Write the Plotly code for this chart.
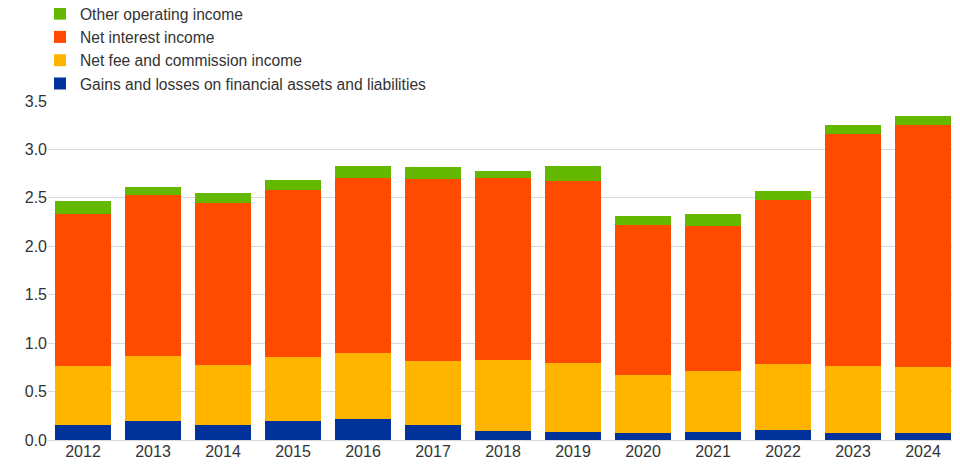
import plotly.graph_objects as go

years = ["2012", "2013", "2014", "2015", "2016", "2017", "2018", "2019",
         "2020", "2021", "2022", "2023", "2024"]
gains_losses = [0.15, 0.20, 0.155, 0.20, 0.22, 0.16, 0.09, 0.085, 0.075, 0.085, 0.10, 0.075, 0.075]
net_fee = [0.61, 0.67, 0.62, 0.655, 0.675, 0.66, 0.735, 0.705, 0.60, 0.63, 0.685, 0.69, 0.68]
net_interest = [1.575, 1.66, 1.67, 1.73, 1.805, 1.87, 1.875, 1.885, 1.54, 1.49, 1.69, 2.39, 2.50]
other_operating = [0.135, 0.085, 0.11, 0.095, 0.13, 0.125, 0.08, 0.15, 0.10, 0.13, 0.10, 0.095, 0.09]

series = [
    ("Gains and losses on financial assets and liabilities", gains_losses, "#003299"),
    ("Net fee and commission income", net_fee, "#ffb400"),
    ("Net interest income", net_interest, "#ff4b00"),
    ("Other operating income", other_operating, "#65b800"),
]

fig = go.Figure()
for name, vals, col in series:
    fig.add_trace(go.Bar(x=years, y=vals, name=name, marker=dict(color=col, line=dict(width=0))))

fig.update_layout(
    barmode="stack",
    bargap=0.2,
    width=952, height=467,
    margin=dict(l=40, r=2, t=93, b=35, autoexpand=False),
    paper_bgcolor="white",
    plot_bgcolor="white",
    font=dict(family="Liberation Sans, Arial, sans-serif", size=16, color="#333333"),
    legend=dict(
        traceorder="reversed",
        orientation="v",
        x=-0.0088, xanchor="left",
        y=1.0, yanchor="bottom",
        font=dict(size=15.6, color="#333333"),
        bgcolor="rgba(0,0,0,0)",
        itemclick=False,
        tracegroupgap=0,
    ),
    showlegend=True,
)
fig.update_xaxes(showgrid=False, showline=False, ticks="", tickfont=dict(size=16, color="#333333"))
fig.update_yaxes(range=[0, 3.5], dtick=0.5, tickformat=".1f", showgrid=True, gridcolor="#d9d9d9",
                 gridwidth=1, zeroline=True, zerolinecolor="#d9d9d9", zerolinewidth=1,
                 showline=False, ticks="", tickfont=dict(size=16, color="#333333"))

fig.write_html("out.html")
